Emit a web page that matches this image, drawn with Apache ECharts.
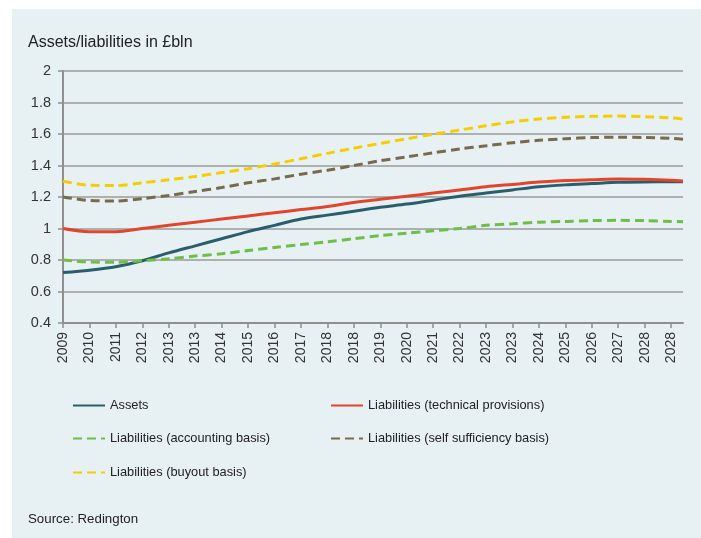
<!DOCTYPE html>
<html>
<head>
<meta charset="utf-8">
<script src="https://cdn.jsdelivr.net/npm/echarts@6/dist/echarts.min.js"></script>
<style>
html,body{margin:0;padding:0;background:#fff;}
#chart{width:701px;height:538px;}
</style>
</head>
<body>
<div id="chart"></div>
<script>
// Tick labels along the x axis (as printed in the source chart)
const tickLabels = ['2009','2010','2011','2012','2013','2013','2014','2015','2016','2017','2018','2018',
  '2019','2020','2021','2022','2023','2023','2024','2025','2026','2027','2028','2028'];
// x positions of data points: one per tick, plus the axis end
const axisEnd = 23.45;
const xPos = tickLabels.map((_, i) => i).concat([axisEnd]);

const assets     = [0.72,0.735,0.757,0.795,0.845,0.89,0.935,0.98,1.02,1.06,1.085,1.11,1.135,1.155,1.18,1.205,1.225,1.245,1.265,1.277,1.285,1.293,1.296,1.297,1.297];
const techProv   = [1.0,0.98,0.98,1.0,1.02,1.04,1.06,1.08,1.10,1.12,1.14,1.165,1.185,1.205,1.225,1.245,1.265,1.28,1.295,1.305,1.31,1.315,1.312,1.306,1.302];
const accounting = [0.80,0.787,0.785,0.795,0.808,0.825,0.84,0.86,0.88,0.898,0.915,0.935,0.955,0.97,0.985,1.0,1.02,1.03,1.04,1.045,1.05,1.052,1.05,1.045,1.043];
const selfSuff   = [1.2,1.178,1.175,1.19,1.21,1.235,1.26,1.29,1.315,1.345,1.37,1.40,1.43,1.455,1.48,1.505,1.525,1.545,1.56,1.57,1.577,1.58,1.578,1.572,1.566];
const buyout     = [1.3,1.275,1.273,1.29,1.31,1.33,1.355,1.38,1.41,1.443,1.477,1.51,1.54,1.57,1.598,1.625,1.652,1.677,1.695,1.706,1.712,1.714,1.71,1.702,1.695];

const seriesNames = ['Assets','Liabilities (technical provisions)','Liabilities (accounting basis)',
  'Liabilities (self sufficiency basis)','Liabilities (buyout basis)'];

const FONT = '"Liberation Sans", Arial, Helvetica, sans-serif';
const pair = arr => arr.map((v, i) => [xPos[i], v]);

function mkSeries(name, data, color, dashed) {
  return {
    name, type: 'line', data: pair(data), smooth: 0.3, symbol: 'none',
    lineStyle: { color, width: 3, type: dashed ? [9, 5] : 'solid' },
    itemStyle: { color }, z: 3
  };
}

function mkLegend(name, left, top) {
  return {
    data: [name], left, top, padding: 0, itemWidth: 32, itemHeight: 14, itemGap: 0,
    itemStyle: { opacity: 0 },
    textStyle: { fontFamily: FONT, fontSize: 12.8, color: '#222' },
    selectedMode: false
  };
}

const chart = echarts.init(document.getElementById('chart'), null, { renderer: 'canvas' });
chart.setOption({
  animation: false,
  backgroundColor: '#ffffff',
  graphic: [{
    type: 'rect', left: 12, top: 9, z: -10,
    shape: { width: 701 - 12, height: 538 - 9 },
    style: { fill: '#e7f1f3' }
  }],
  title: [
    { text: 'Assets/liabilities in £bln', left: 23, top: 30,
      textStyle: { fontFamily: FONT, fontSize: 16, fontWeight: 'normal', color: '#222' } },
    { text: 'Source: Redington', left: 23, top: 508,
      textStyle: { fontFamily: FONT, fontSize: 13.3, fontWeight: 'normal', color: '#222' } }
  ],
  legend: [
    mkLegend(seriesNames[0], 72, 399),
    mkLegend(seriesNames[1], 330, 399),
    mkLegend(seriesNames[2], 72, 432),
    mkLegend(seriesNames[3], 330, 432),
    mkLegend(seriesNames[4], 72, 466)
  ],
  grid: { left: 63, right: 18, top: 71, bottom: 215, containLabel: false },
  xAxis: {
    type: 'value', min: 0, max: axisEnd,
    axisLine: { show: true, lineStyle: { color: '#8f8f8f', width: 2 } },
    axisTick: { show: true, length: 5, lineStyle: { color: '#8f8f8f', width: 1.5 },
      customValues: tickLabels.map((_, i) => i) },
    axisLabel: { rotate: 90, margin: 9, fontFamily: FONT, fontSize: 14, color: '#333',
      customValues: tickLabels.map((_, i) => i),
      formatter: v => tickLabels[Math.round(v)] || '' },
    splitLine: { show: false }
  },
  yAxis: {
    type: 'value', min: 0.4, max: 2, interval: 0.2,
    axisLine: { show: true, lineStyle: { color: '#8f8f8f', width: 2 } },
    axisTick: { show: true, length: 5, lineStyle: { color: '#8f8f8f', width: 1.5 } },
    axisLabel: { margin: 12, fontFamily: FONT, fontSize: 14.5, color: '#333' },
    splitLine: { show: true, lineStyle: { color: '#9a9a9a', width: 1.5 } }
  },
  series: [
    mkSeries(seriesNames[0], assets, '#2b5e6d', false),
    mkSeries(seriesNames[1], techProv, '#e2452b', false),
    mkSeries(seriesNames[2], accounting, '#6ebe47', true),
    mkSeries(seriesNames[3], selfSuff, '#776b4e', true),
    mkSeries(seriesNames[4], buyout, '#f6cd05', true)
  ]
});
</script>
</body>
</html>
